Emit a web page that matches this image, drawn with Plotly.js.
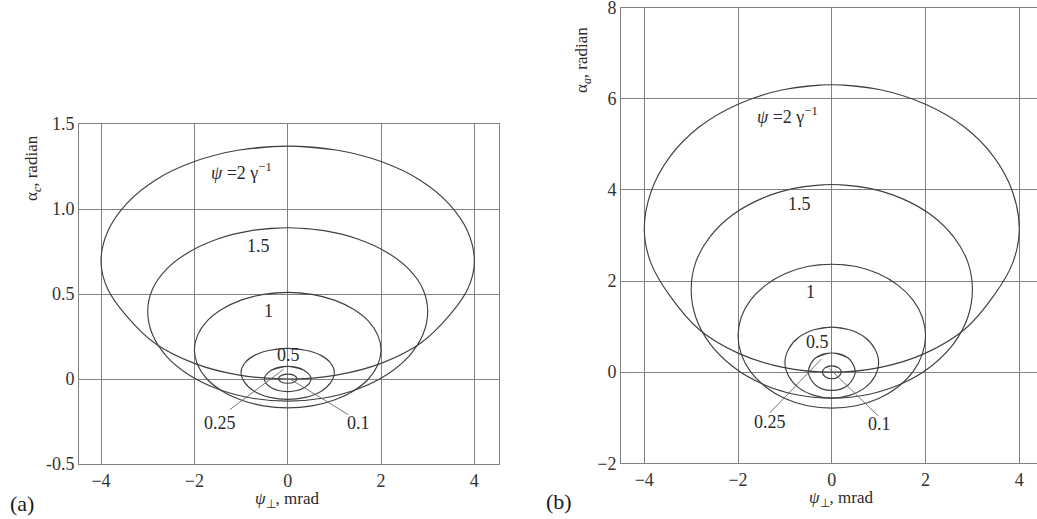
<!DOCTYPE html>
<html>
<head>
<meta charset="utf-8">
<script src="https://cdn.plot.ly/plotly-3.0.1.min.js"></script>
<style>html,body{margin:0;padding:0;background:#fff;}#chart{width:1037px;height:519px;}</style>
</head>
<body>
<div id="chart"></div>
<script>
// ---------- data ----------
// x positions (mrad) around each loop (top -> left -> bottom -> right -> top), per ψ
const x_psi2   = [0, -1.04, -2, -2.83, -3.46, -3.86, -4, -3.86, -3.46, -2.83, -2, -1.04, 0, 1.04, 2, 2.83, 3.46, 3.86, 4, 3.86, 3.46, 2.83, 2, 1.04, 0];
const x_psi15  = [0, -0.78, -1.5, -2.12, -2.6, -2.9, -3, -2.9, -2.6, -2.12, -1.5, -0.78, 0, 0.78, 1.5, 2.12, 2.6, 2.9, 3, 2.9, 2.6, 2.12, 1.5, 0.78, 0];
const x_psi1   = [0, -0.52, -1, -1.41, -1.73, -1.93, -2, -1.93, -1.73, -1.41, -1, -0.52, 0, 0.52, 1, 1.41, 1.73, 1.93, 2, 1.93, 1.73, 1.41, 1, 0.52, 0];
const x_psi05  = [0, -0.38, -0.71, -0.92, -1, -0.92, -0.71, -0.38, 0, 0.38, 0.71, 0.92, 1, 0.92, 0.71, 0.38, 0];
const x_psi025 = [0, -0.35, -0.5, -0.35, 0, 0.35, 0.5, 0.35, 0];
const x_psi01  = [0, -0.141, -0.2, -0.141, 0, 0.141, 0.2, 0.141, 0];

// panel (a): alpha_c, radian
const a_psi2   = [1.37, 1.347, 1.279, 1.171, 1.029, 0.866, 0.69, 0.531, 0.373, 0.207, 0.092, 0.023, 0, 0.023, 0.092, 0.207, 0.373, 0.531, 0.69, 0.866, 1.029, 1.171, 1.279, 1.347, 1.37];
const a_psi15  = [0.89, 0.873, 0.824, 0.746, 0.645, 0.527, 0.40, 0.263, 0.135, 0.025, -0.059, -0.112, -0.13, -0.112, -0.059, 0.025, 0.135, 0.263, 0.40, 0.527, 0.645, 0.746, 0.824, 0.873, 0.89];
const a_psi1   = [0.51, 0.498, 0.464, 0.41, 0.34, 0.258, 0.17, 0.082, 0.0, -0.07, -0.124, -0.158, -0.17, -0.158, -0.124, -0.07, 0.0, 0.082, 0.17, 0.258, 0.34, 0.41, 0.464, 0.498, 0.51];
const a_psi05  = [0.18, 0.169, 0.139, 0.094, 0.04, -0.021, -0.073, -0.108, -0.12, -0.108, -0.073, -0.021, 0.04, 0.094, 0.139, 0.169, 0.18];
const a_psi025 = [0.074, 0.052, 0, -0.052, -0.074, -0.052, 0, 0.052, 0.074];
const a_psi01  = [0.029, 0.021, 0.002, -0.017, -0.025, -0.017, 0.002, 0.021, 0.029];

// panel (b): alpha_a, radian
const b_psi2   = [6.31, 6.20, 5.88, 5.38, 4.72, 3.95, 3.12, 2.40, 1.685, 0.936, 0.418, 0.106, 0, 0.106, 0.418, 0.936, 1.685, 2.40, 3.12, 3.95, 4.72, 5.38, 5.88, 6.20, 6.31];
const b_psi15  = [4.12, 4.04, 3.81, 3.45, 2.97, 2.42, 1.82, 1.20, 0.625, 0.13, -0.25, -0.489, -0.57, -0.489, -0.25, 0.13, 0.625, 1.20, 1.82, 2.42, 2.97, 3.45, 3.81, 4.04, 4.12];
const b_psi1   = [2.37, 2.32, 2.16, 1.91, 1.585, 1.21, 0.80, 0.39, 0.005, -0.324, -0.577, -0.736, -0.79, -0.736, -0.577, -0.324, 0.005, 0.39, 0.80, 1.21, 1.585, 1.91, 2.16, 2.32, 2.37];
const b_psi05  = [0.99, 0.93, 0.76, 0.51, 0.21, -0.09, -0.34, -0.51, -0.57, -0.51, -0.34, -0.09, 0.21, 0.51, 0.76, 0.93, 0.99];
const b_psi025 = [0.42, 0.31, 0.01, -0.28, -0.40, -0.28, 0.01, 0.31, 0.42];
const b_psi01  = [0.14, 0.10, 0, -0.10, -0.145, -0.10, 0, 0.10, 0.14];

// curve labels
const labelText = ['<i>ψ</i> =2 γ<sup>−1</sup>', '1.5', '1', '0.5', '0.25', '0.1'];
const a_labelX = [-0.98, -0.63, -0.42, 0.01, -1.45, 1.51];
const a_labelY = [1.22, 0.78, 0.40, 0.14, -0.26, -0.26];
const b_labelX = [-0.94, -0.68, -0.45, -0.31, -1.32, 1.02];
const b_labelY = [5.63, 3.69, 1.77, 0.67, -1.10, -1.14];

// leader lines (for 0.25 and 0.1)
const a_lead025_x = [-1.24, -0.09], a_lead025_y = [-0.18, 0.057];
const a_lead01_x  = [0.05, 1.30],   a_lead01_y  = [0.0, -0.21];
const b_lead025_x = [-1.32, -0.22], b_lead025_y = [-0.89, 0.29];
const b_lead01_x  = [-0.05, 0.99],  b_lead01_y  = [0.08, -0.96];

// ticks
const xTickVals = [-4, -2, 0, 2, 4];
const xTickText = ['−4', '−2', '0', '2', '4'];
const aTickVals = [-0.5, 0, 0.5, 1.0, 1.5];
const aTickText = ['-0.5', '0', '0.5', '1.0', '1.5'];
const bTickVals = [-2, 0, 2, 4, 6, 8];
const bTickText = ['−2', '0', '2', '4', '6', '8'];

// ---------- build ----------
const FONT = 'Liberation Serif, Times New Roman, serif';
const CURVE = '#404040';
const GRID = '#808080';

// wrap a closed loop so the spline is smooth where it closes
function wrap(a) { const n = a.length; return [a[n - 2]].concat(a, [a[1]]); }

function loop(xs, ys, xa, ya) {
  return { x: wrap(xs), y: wrap(ys), xaxis: xa, yaxis: ya, type: 'scatter', mode: 'lines',
    line: { color: CURVE, width: 1.15, shape: 'spline', smoothing: 1 }, hoverinfo: 'skip' };
}
function lead(xs, ys, xa, ya) {
  return { x: xs, y: ys, xaxis: xa, yaxis: ya, type: 'scatter', mode: 'lines',
    line: { color: '#666', width: 0.9 }, hoverinfo: 'skip' };
}

const xsAll = [x_psi2, x_psi15, x_psi1, x_psi05, x_psi025, x_psi01];
const aAll = [a_psi2, a_psi15, a_psi1, a_psi05, a_psi025, a_psi01];
const bAll = [b_psi2, b_psi15, b_psi1, b_psi05, b_psi025, b_psi01];

const traces = [];
xsAll.forEach((xs, i) => traces.push(loop(xs, aAll[i], 'x', 'y')));
xsAll.forEach((xs, i) => traces.push(loop(xs, bAll[i], 'x2', 'y2')));
traces.push(lead(a_lead025_x, a_lead025_y, 'x', 'y'));
traces.push(lead(a_lead01_x, a_lead01_y, 'x', 'y'));
traces.push(lead(b_lead025_x, b_lead025_y, 'x2', 'y2'));
traces.push(lead(b_lead01_x, b_lead01_y, 'x2', 'y2'));

const annotations = [];
const labFont = { family: FONT, size: 18, color: '#2a2a2a' };
labelText.forEach((t, i) => {
  annotations.push({ xref: 'x', yref: 'y', x: a_labelX[i], y: a_labelY[i], text: t, showarrow: false,
    xanchor: 'center', yanchor: 'middle', font: labFont });
  annotations.push({ xref: 'x2', yref: 'y2', x: b_labelX[i], y: b_labelY[i], text: t, showarrow: false,
    xanchor: 'center', yanchor: 'middle', font: labFont });
});
const titleFont = { family: FONT, size: 17, color: '#2a2a2a' };
function paperText(px, py, text, font, angle) {
  return { xref: 'paper', yref: 'paper', x: px / 1037, y: 1 - py / 519, text: text, showarrow: false,
    xanchor: 'center', yanchor: 'middle', textangle: angle || 0, font: font };
}
annotations.push(paperText(33, 168, 'α<sub><i>c</i></sub>, radian', titleFont, -90));
annotations.push(paperText(583, 60, 'α<sub><i>a</i></sub>, radian', titleFont, -90));
annotations.push(paperText(287, 500, '<i>ψ</i><sub>⊥</sub>, mrad', titleFont));
annotations.push(paperText(841, 499, '<i>ψ</i><sub>⊥</sub>, mrad', titleFont));
annotations.push(paperText(22, 503, '(a)', { family: FONT, size: 22, color: '#1a1a1a' }));
annotations.push(paperText(559, 501, '(b)', { family: FONT, size: 22, color: '#1a1a1a' }));

const tickFont = { family: FONT, size: 18, color: '#333' };
function axis(extra) {
  return Object.assign({ showgrid: true, gridcolor: GRID, gridwidth: 1, zeroline: false, showline: true,
    mirror: true, linecolor: GRID, linewidth: 1, ticks: '', tickfont: tickFont, tickmode: 'array',
    ticklabeloverflow: 'allow', fixedrange: true }, extra);
}

const layout = {
  width: 1037, height: 519, autosize: false,
  margin: { l: 0, r: 0, t: 0, b: 0 },
  paper_bgcolor: '#fff', plot_bgcolor: '#fff', showlegend: false, hovermode: false,
  xaxis: axis({ domain: [79 / 1037, 498.5 / 1037], range: [-4.472, 4.517], tickvals: xTickVals, ticktext: xTickText, anchor: 'y' }),
  yaxis: axis({ domain: [55 / 519, 395 / 519], range: [-0.5, 1.5], tickvals: aTickVals, ticktext: aTickText, anchor: 'x' }),
  xaxis2: axis({ domain: [621 / 1037, 1], range: [-4.497, 4.378], tickvals: xTickVals, ticktext: xTickText, anchor: 'y2' }),
  yaxis2: axis({ domain: [55.7 / 519, 511.3 / 519], range: [-2, 8], tickvals: bTickVals, ticktext: bTickText, anchor: 'x2' }),
  annotations: annotations
};

Plotly.newPlot('chart', traces, layout, { displayModeBar: false, staticPlot: true });
</script>
</body>
</html>
